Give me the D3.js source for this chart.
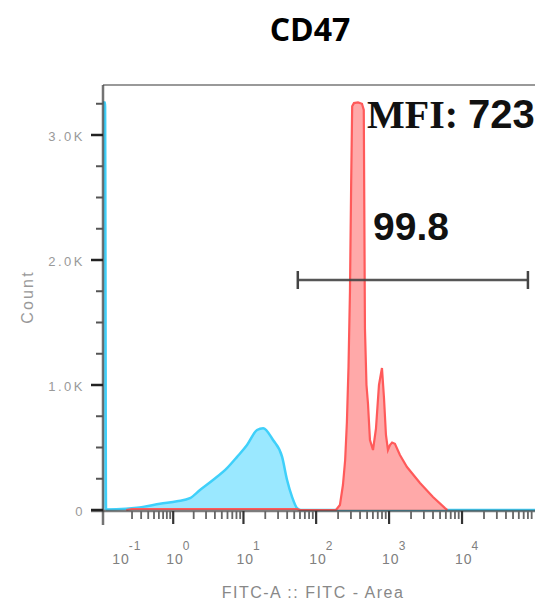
<!DOCTYPE html>
<html>
<head>
<meta charset="utf-8" />
<script src="https://d3js.org/d3.v7.min.js"></script>
<style>
  body { margin: 0; background: #fff; }
  svg { display: block; }
</style>
</head>
<body>
<svg width="535" height="603"></svg>
<script>
// data
var title = 'CD47';
var xLabel = 'FITC-A :: FITC - Area';
var yLabel = 'Count';
var xDecades = [-1, 0, 1, 2, 3, 4];
var yTicks = [0, 1000, 2000, 3000];
var yTickLabels = ['0', '1.0K', '2.0K', '3.0K'];

// unstained / isotype (blue)
var blueX = [0.02, 0.028, 0.032, 0.15, 0.25, 0.324, 0.625, 1.14, 1.77, 2.46, 3.76, 5.91, 8.15, 11.2, 15.4, 18.7, 25.6, 34.1, 39.9, 46.7, 54.7, 62, 100000];
var blueY = [3260, 3260, 5, 10, 18, 25, 50, 70, 95, 160, 240, 335, 425, 520, 640, 655, 560, 425, 240, 105, 15, 0, 0];

// stained (red)
var redX = [0.15, 0.2, 55, 60, 187, 212, 233, 250, 264, 278, 291, 302, 312, 330, 375, 425, 450, 467, 490, 514, 547, 602, 661, 727, 799, 851, 906, 965, 1028, 1100, 1203, 1409, 1760, 2653, 3999, 5840, 6300];
var redY = [0, 8, 8, 0, 0, 40, 200, 400, 700, 1150, 1750, 2600, 3230, 3255, 3260, 3250, 3200, 1450, 1000, 850, 560, 480, 650, 1000, 1136, 900, 600, 480, 520, 540, 530, 440, 344, 216, 104, 15, 0];

var gate = { x0: 56, x1: 80000, y: 1840, label: '99.8' };
var mfiLabel = 'MFI:';
var mfiValue = '723';

(function () {
var svg = d3.select('svg');
var mLeft = 103, mRight = 535, mTop = 85, mBottom = 510;

var x = d3.scaleSymlog().constant(0.1).domain([0.02, 100000]).range([mLeft, mRight]);
var y = d3.scaleLinear().domain([0, 3400]).range([mBottom, mTop]);

svg.append('defs').append('clipPath').attr('id', 'plot')
  .append('rect').attr('x', mLeft).attr('y', mTop).attr('width', mRight - mLeft).attr('height', mBottom - mTop + 2);

function pts(xs, ys) { return xs.map(function (v, i) { return [v, ys[i]]; }); }

var area = d3.area().x(function (d) { return x(d[0]); }).y0(y(0)).y1(function (d) { return y(d[1]); });
var line = d3.line().x(function (d) { return x(d[0]); }).y(function (d) { return y(d[1]); });

var g = svg.append('g').attr('clip-path', 'url(#plot)');

var blue = pts(blueX, blueY);
var red = pts(redX, redY);

g.append('path').attr('d', area.curve(d3.curveMonotoneX)(blue)).attr('fill', '#9ae8ff');
g.append('path').attr('d', line.curve(d3.curveMonotoneX)(blue))
  .attr('fill', 'none').attr('stroke', '#3fd0fa').attr('stroke-width', 2.5);

g.append('path').attr('d', area.curve(d3.curveLinear)(red)).attr('fill', '#ffa9a9');
g.append('path').attr('d', line.curve(d3.curveLinear)(red))
  .attr('fill', 'none').attr('stroke', '#ff5a5a').attr('stroke-width', 2.2);

// frame
svg.append('line').attr('x1', mLeft).attr('x2', mRight).attr('y1', mTop).attr('y2', mTop)
  .attr('stroke', '#999').attr('stroke-width', 2);
svg.append('line').attr('x1', mLeft).attr('x2', mLeft).attr('y1', mTop).attr('y2', mBottom + 15)
  .attr('stroke', '#444').attr('stroke-width', 2.5).attr('stroke-opacity', 0.75);
svg.append('line').attr('x1', mLeft - 12).attr('x2', mRight).attr('y1', mBottom + 1).attr('y2', mBottom + 1)
  .attr('stroke', '#444').attr('stroke-width', 2.5).attr('stroke-opacity', 0.7);

// y ticks
var yMinor = d3.range(250, 3400, 250).filter(function (v) { return v % 1000 !== 0; });
svg.append('g').selectAll('line').data(yMinor).join('line')
  .attr('x1', mLeft - 7).attr('x2', mLeft).attr('y1', y).attr('y2', y)
  .attr('stroke', '#555').attr('stroke-width', 2);
svg.append('g').selectAll('line').data(yTicks).join('line')
  .attr('x1', mLeft - 12).attr('x2', mLeft).attr('y1', y).attr('y2', y)
  .attr('stroke', '#222').attr('stroke-width', 2.5);
svg.append('g').selectAll('text').data(yTicks).join('text')
  .attr('x', 85).attr('y', function (d) { return y(d) + 6; })
  .attr('text-anchor', 'end')
  .style('font', '13px "Liberation Sans", Arial, sans-serif')
  .style('letter-spacing', '2.5px')
  .attr('fill', '#999')
  .text(function (d, i) { return yTickLabels[i]; });

svg.append('text')
  .attr('transform', 'translate(33,297) rotate(-90)')
  .attr('text-anchor', 'middle')
  .style('font', '16px "Liberation Sans", Arial, sans-serif')
  .style('letter-spacing', '2.2px')
  .attr('fill', '#999')
  .text(yLabel);

// x ticks
var xMinor = [];
xDecades.forEach(function (e) {
  for (var k = 2; k <= 9; k++) xMinor.push(k * Math.pow(10, e));
});
xMinor = xMinor.filter(function (v) { return v < 100000; });
svg.append('g').selectAll('line').data(xMinor).join('line')
  .attr('x1', x).attr('x2', x).attr('y1', mBottom + 1).attr('y2', mBottom + 9)
  .attr('stroke', '#666').attr('stroke-width', 1.8);
svg.append('g').selectAll('line').data(xDecades.filter(function (e) { return e >= 0; })).join('line')
  .attr('x1', function (e) { return x(Math.pow(10, e)); })
  .attr('x2', function (e) { return x(Math.pow(10, e)); })
  .attr('y1', mBottom + 1).attr('y2', mBottom + 14)
  .attr('stroke', '#333').attr('stroke-width', 2.2);

var xl = svg.append('g').selectAll('text').data(xDecades).join('text')
  .attr('x', function (e) { return x(Math.pow(10, e)) - 7; })
  .attr('y', 564)
  .style('font', '14px "Liberation Sans", Arial, sans-serif')
  .style('letter-spacing', '1px')
  .attr('fill', '#808080');
xl.append('tspan').text('10');
xl.append('tspan').attr('dy', -14).attr('dx', -1).style('font-size', '12px').text(function (e) { return e; });

svg.append('text')
  .attr('x', 313).attr('y', 598)
  .attr('text-anchor', 'middle')
  .style('font', '16px "Liberation Sans", Arial, sans-serif')
  .style('letter-spacing', '1.5px')
  .attr('fill', '#888')
  .text(xLabel);

// gate
var gy = y(gate.y);
svg.append('line').attr('x1', x(gate.x0)).attr('x2', x(gate.x1)).attr('y1', gy).attr('y2', gy)
  .attr('stroke', '#444').attr('stroke-width', 2.5).attr('stroke-opacity', 0.9);
[gate.x0, gate.x1].forEach(function (v) {
  svg.append('line').attr('x1', x(v)).attr('x2', x(v)).attr('y1', gy - 9).attr('y2', gy + 9)
    .attr('stroke', '#444').attr('stroke-width', 2.5);
});
svg.append('text').attr('x', 373).attr('y', 240)
  .style('font', 'bold 39px "Liberation Sans", Arial, sans-serif')
  .attr('fill', '#111').text(gate.label);

var mfi = svg.append('text').attr('x', 367).attr('y', 128).attr('fill', '#111');
mfi.append('tspan').style('font', 'bold 40px "Liberation Serif", "Times New Roman", serif').text(mfiLabel + ' ');
mfi.append('tspan').style('font', 'bold 40px "Liberation Sans", Arial, sans-serif').text(mfiValue);

// title
svg.append('text').attr('x', 310).attr('y', 41).attr('text-anchor', 'middle')
  .style('font', 'bold 32px "Open Sans", sans-serif').attr('fill', '#000').text(title);
})();
</script>
</body>
</html>
